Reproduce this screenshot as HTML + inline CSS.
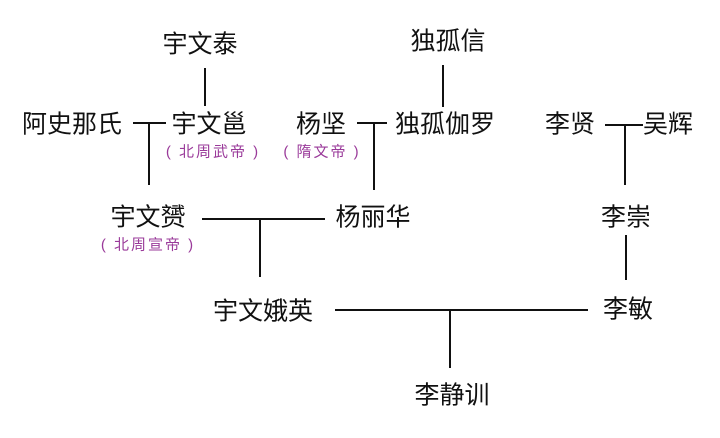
<!DOCTYPE html>
<html><head><meta charset="utf-8"><style>
body{margin:0;width:720px;height:438px;background:#fff;position:relative;overflow:hidden;font-family:"Liberation Sans","Noto Sans CJK SC",sans-serif}
.t{position:absolute;font-size:25px;color:#111;white-space:nowrap;transform:translate(-50%,-50%);line-height:1}
.s{position:absolute;font-size:15px;color:#9a3a9a;white-space:nowrap;transform:translate(-50%,-50%);line-height:1;letter-spacing:2px}
.h{position:absolute;height:2px;background:#111}
.v{position:absolute;width:2px;background:#111}
</style></head><body>
<div class="t" style="left:200px;top:45px">宇文泰</div>
<div class="t" style="left:448px;top:42px">独孤信</div>
<div class="t" style="left:72px;top:125px">阿史那氏</div>
<div class="t" style="left:209px;top:125px">宇文邕</div>
<div class="s" style="left:213px;top:152px">( 北周武帝 )</div>
<div class="t" style="left:321px;top:125px">杨坚</div>
<div class="s" style="left:322px;top:152px">( 隋文帝 )</div>
<div class="t" style="left:445px;top:125px">独孤伽罗</div>
<div class="t" style="left:570px;top:125px">李贤</div>
<div class="t" style="left:668px;top:125px">吴辉</div>
<div class="t" style="left:148px;top:218px">宇文赟</div>
<div class="s" style="left:148px;top:245px">( 北周宣帝 )</div>
<div class="t" style="left:373px;top:218px">杨丽华</div>
<div class="t" style="left:626px;top:218px">李崇</div>
<div class="t" style="left:263px;top:312px">宇文娥英</div>
<div class="t" style="left:628px;top:310px">李敏</div>
<div class="t" style="left:452px;top:396px">李静训</div>

<div class="v" style="left:204px;top:68px;height:38px"></div>
<div class="v" style="left:442px;top:65px;height:42px"></div>
<div class="h" style="left:133px;top:122px;width:33px"></div>
<div class="v" style="left:148px;top:122px;height:63px"></div>
<div class="h" style="left:357px;top:122px;width:30px"></div>
<div class="v" style="left:373px;top:122px;height:68px"></div>
<div class="h" style="left:605px;top:124px;width:38px"></div>
<div class="v" style="left:624px;top:124px;height:61px"></div>
<div class="h" style="left:202px;top:218px;width:123px"></div>
<div class="v" style="left:259px;top:218px;height:59px"></div>
<div class="v" style="left:625px;top:235px;height:45px"></div>
<div class="h" style="left:335px;top:309px;width:253px"></div>
<div class="v" style="left:449px;top:309px;height:59px"></div>
</body></html>
